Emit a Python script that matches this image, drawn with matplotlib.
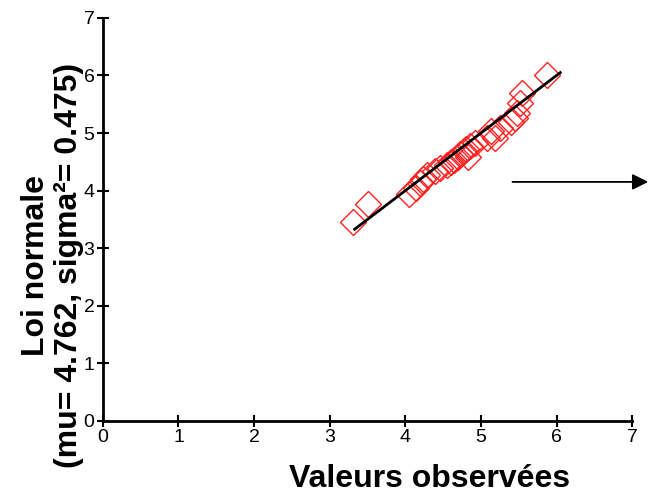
import numpy as np
import matplotlib
matplotlib.use('Agg')
import matplotlib.pyplot as plt

plt.rcParams['font.family'] = ['Liberation Sans', 'DejaVu Sans']

# observed values (x) vs normal quantiles (y)
obs = [3.31, 3.51, 4.05, 4.14, 4.20, 4.24, 4.29, 4.39, 4.46, 4.55,
       4.60, 4.64, 4.70, 4.73, 4.77, 4.80, 4.83, 4.86, 4.92, 5.08,
       5.13, 5.18, 5.25, 5.40, 5.45, 5.48, 5.52, 5.54, 5.87]
theo = [3.45, 3.77, 3.94, 4.05, 4.14, 4.21, 4.28, 4.34, 4.39, 4.44,
        4.49, 4.53, 4.58, 4.63, 4.68, 4.73, 4.58, 4.77, 4.83, 4.92,
        5.04, 4.91, 5.09, 5.19, 5.26, 5.35, 5.52, 5.69, 6.01]
line_x = [3.33, 6.05]
line_y = [3.33, 6.05]

xticks = [0, 1, 2, 3, 4, 5, 6, 7]
yticks = [0, 1, 2, 3, 4, 5, 6, 7]

fig = plt.figure(figsize=(6.51, 4.97), dpi=100)
ax = fig.add_axes([0.158, 0.153, 0.813, 0.811])

ax.plot(obs, theo, 'D', ms=13, mfc='none', mec='#ff2020', mew=1.0)
ax.plot(line_x, line_y, '-', color='black', lw=2)

ax.set_xlim(0, 7)
ax.set_ylim(0, 7)
ax.set_xticks(xticks)
ax.set_yticks(yticks)
ax.spines['top'].set_visible(False)
ax.spines['right'].set_visible(False)
ax.spines['left'].set_linewidth(2)
ax.spines['bottom'].set_linewidth(2)
ax.tick_params(axis='both', direction='inout', length=8, width=1.5, pad=2)
for lab in ax.get_xticklabels() + ax.get_yticklabels():
    lab.set_fontfamily(['Liberation Sans Narrow', 'Liberation Sans'])
    lab.set_fontsize(14)

ax.set_xlabel('Valeurs observées', fontsize=23, fontweight='bold')
ax.xaxis.set_label_coords(0.618, -0.107)
ax.set_ylabel('Loi normale\n(mu= 4.762, sigma²= 0.475)', fontsize=23, fontweight='bold',
              linespacing=1.15)
ax.yaxis.set_label_coords(-0.035, 0.385)

ax.annotate('', xy=(1.0, 0.634), xytext=(0.783, 0.634),
            xycoords='figure fraction', textcoords='figure fraction',
            arrowprops=dict(arrowstyle='-|>', color='black', lw=1.3, mutation_scale=24))

plt.savefig('out.png', dpi=100)
